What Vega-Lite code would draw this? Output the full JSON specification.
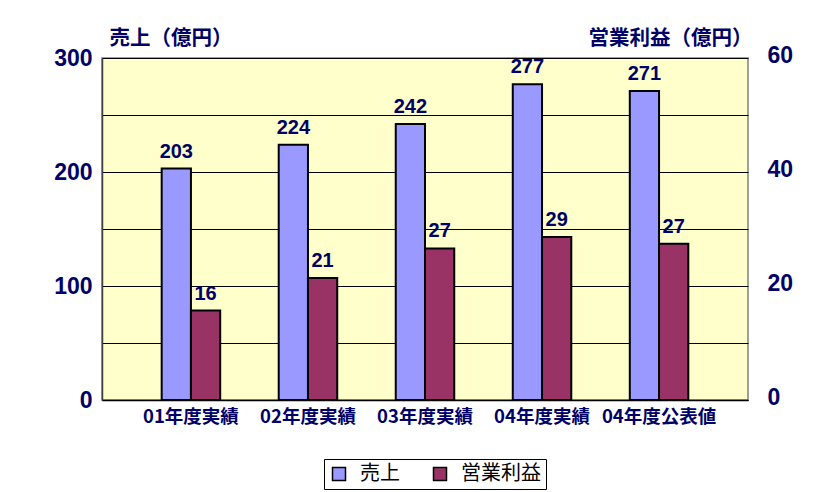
{
  "$schema": "https://vega.github.io/schema/vega-lite/v6.json",
  "width": 646,
  "height": 342,
  "autosize": {"type": "none"},
  "padding": {"left": 102, "top": 58, "right": 88, "bottom": 92},
  "background": "white",
  "config": {
    "view": {"fill": "#FFFFCC", "stroke": "#808080", "strokeWidth": 1.5}
  },
  "data": {
    "values": [
      {"cat": "01年度実績", "series": "売上", "value": 203},
      {"cat": "02年度実績", "series": "売上", "value": 224},
      {"cat": "03年度実績", "series": "売上", "value": 242},
      {"cat": "04年度実績", "series": "売上", "value": 277},
      {"cat": "04年度公表値", "series": "売上", "value": 271},
      {"cat": "01年度実績", "series": "営業利益", "value": 15.7},
      {"cat": "02年度実績", "series": "営業利益", "value": 21.4},
      {"cat": "03年度実績", "series": "営業利益", "value": 26.6},
      {"cat": "04年度実績", "series": "営業利益", "value": 28.6},
      {"cat": "04年度公表値", "series": "営業利益", "value": 27.4}
    ]
  },
  "encoding": {
    "x": {
      "field": "cat",
      "type": "nominal",
      "sort": null,
      "scale": {"paddingInner": 0.5, "paddingOuter": 0.51},
      "axis": {
        "title": null,
        "labelAngle": 0,
        "labelFont": "Noto Sans CJK JP",
        "labelFontSize": 18.5,
        "labelFontWeight": "bold",
        "labelColor": "#000066",
        "labelPadding": 7,
        "ticks": false,
        "domain": true,
        "domainColor": "black",
        "domainWidth": 1.5
      }
    },
    "xOffset": {
      "field": "series",
      "type": "nominal",
      "scale": {"domain": ["売上", "営業利益"], "paddingInner": 0, "paddingOuter": 0}
    }
  },
  "layer": [
    {
      "transform": [{"filter": "datum.series === '売上'"}],
      "encoding": {
        "y": {
          "field": "value",
          "type": "quantitative",
          "scale": {"domain": [0, 300], "nice": false},
          "axis": {
            "orient": "left",
            "values": [0, 50, 100, 150, 200, 250, 300],
            "labelExpr": "datum.value % 100 === 0 ? datum.label : ''",
            "grid": true,
            "gridColor": "black",
            "gridWidth": 1,
            "gridOpacity": 1,
            "ticks": false,
            "domain": true,
            "domainColor": "#404040",
            "domainWidth": 1.5,
            "labelFont": "Liberation Sans",
            "labelFontSize": 23,
            "labelFontWeight": "bold",
            "labelColor": "#000066",
            "labelPadding": 10,
            "title": "売上（億円）",
            "titleAngle": 0,
            "titleAlign": "left",
            "titleBaseline": "middle",
            "titleX": 7,
            "titleY": -20,
            "titleFont": "Noto Sans CJK JP",
            "titleFontSize": 20.5,
            "titleFontWeight": "bold",
            "titleColor": "#000066"
          }
        }
      },
      "layer": [
        {
          "mark": {"type": "bar", "stroke": "black", "strokeWidth": 2},
          "encoding": {
            "color": {
              "field": "series",
              "type": "nominal",
              "scale": {"domain": ["売上", "営業利益"], "range": ["#9999FF", "#993366"]},
              "legend": {
                "orient": "none",
                "legendX": 222,
                "legendY": 401,
                "direction": "horizontal",
                "title": null,
                "strokeColor": "black",
                "fillColor": "white",
                "padding": 5,
                "symbolType": "square",
                "symbolSize": 169,
                "symbolStrokeColor": "black",
                "symbolStrokeWidth": 1.5,
                "symbolOpacity": 1,
                "labelFont": "Noto Sans CJK JP",
                "labelFontSize": 20,
                "labelColor": "black",
                "labelOffset": 11,
                "columnPadding": 30
              }
            }
          }
        },
        {
          "mark": {
            "type": "text",
            "baseline": "bottom",
            "dy": -7,
            "font": "Liberation Sans",
            "fontSize": 20,
            "fontWeight": "bold",
            "color": "#000066"
          },
          "encoding": {"text": {"field": "value", "type": "quantitative", "format": ".0f"}}
        }
      ]
    },
    {
      "transform": [{"filter": "datum.series === '営業利益'"}],
      "encoding": {
        "y": {
          "field": "value",
          "type": "quantitative",
          "scale": {"domain": [0, 60], "nice": false},
          "axis": {
            "orient": "right",
            "values": [0, 20, 40, 60],
            "grid": false,
            "ticks": false,
            "domain": false,
            "labelFont": "Liberation Sans",
            "labelFontSize": 23,
            "labelFontWeight": "bold",
            "labelColor": "#000066",
            "labelPadding": 19,
            "labelOffset": -3,
            "title": "営業利益（億円）",
            "titleAngle": 0,
            "titleAlign": "right",
            "titleBaseline": "middle",
            "titleX": 4,
            "titleY": -20,
            "titleFont": "Noto Sans CJK JP",
            "titleFontSize": 20.5,
            "titleFontWeight": "bold",
            "titleColor": "#000066"
          }
        }
      },
      "layer": [
        {
          "mark": {"type": "bar", "stroke": "black", "strokeWidth": 2},
          "encoding": {
            "color": {
              "field": "series",
              "type": "nominal",
              "scale": {"domain": ["売上", "営業利益"], "range": ["#9999FF", "#993366"]},
              "legend": {
                "orient": "none",
                "legendX": 222,
                "legendY": 401,
                "direction": "horizontal",
                "title": null,
                "strokeColor": "black",
                "fillColor": "white",
                "padding": 5,
                "symbolType": "square",
                "symbolSize": 169,
                "symbolStrokeColor": "black",
                "symbolStrokeWidth": 1.5,
                "symbolOpacity": 1,
                "labelFont": "Noto Sans CJK JP",
                "labelFontSize": 20,
                "labelColor": "black",
                "labelOffset": 11,
                "columnPadding": 30
              }
            }
          }
        },
        {
          "mark": {
            "type": "text",
            "baseline": "bottom",
            "dy": -7,
            "font": "Liberation Sans",
            "fontSize": 20,
            "fontWeight": "bold",
            "color": "#000066"
          },
          "encoding": {"text": {"field": "value", "type": "quantitative", "format": ".0f"}}
        }
      ]
    }
  ],
  "resolve": {"scale": {"y": "independent"}}
}
